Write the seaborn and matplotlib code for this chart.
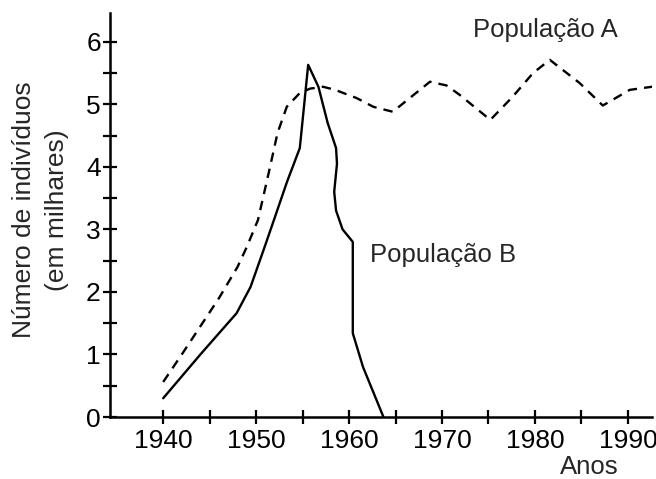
import pandas as pd
import seaborn as sns
import matplotlib.pyplot as plt
from matplotlib.ticker import MultipleLocator, FixedLocator

# Dados
anos_a = [1940, 1942, 1944, 1946, 1948, 1949, 1950.2, 1951.5, 1952.3, 1953.3, 1954.7,
          1955.8, 1957.2, 1958.5, 1960.8, 1962.6, 1964.7, 1966.7, 1968.7, 1970.5,
          1971.9, 1975.2, 1977.6, 1979.8, 1981.6, 1984.8, 1987.3, 1990.2, 1992.6]
pop_a = [0.56, 1.0, 1.45, 1.9, 2.4, 2.72, 3.15, 4.0, 4.54, 4.96, 5.18,
         5.25, 5.28, 5.23, 5.1, 4.96, 4.88, 5.12, 5.36, 5.3,
         5.15, 4.75, 5.12, 5.5, 5.71, 5.34, 4.98, 5.23, 5.28]

anos_b = [1940, 1944, 1947.9, 1949.4, 1950.8, 1951.8, 1953.3, 1954.7, 1955.6,
          1956.7, 1957.7, 1958.6, 1958.7, 1958.4, 1958.6, 1959.3, 1960.4,
          1960.4, 1960.4, 1961.5, 1963.7]
pop_b = [0.30, 1.0, 1.66, 2.08, 2.67, 3.1, 3.75, 4.3, 5.63,
         5.28, 4.7, 4.3, 4.05, 3.6, 3.3, 3.0, 2.8,
         2.2, 1.34, 0.8, 0.0]

df_a = pd.DataFrame({"Ano": anos_a, "Indivíduos": pop_a})
df_b = pd.DataFrame({"Ano": anos_b, "Indivíduos": pop_b})

sns.set_style("ticks")
plt.rcParams['font.family'] = ['Liberation Sans', 'DejaVu Sans']

fig = plt.figure(figsize=(6.56, 4.79), dpi=100)
ax = fig.add_axes([0.168, 0.1294, 0.826, 0.8436])

sns.lineplot(x="Ano", y="Indivíduos", data=df_a, ax=ax, color="black",
             linewidth=1.7, linestyle=(0, (4, 3)), sort=False, estimator=None)
sns.lineplot(x="Ano", y="Indivíduos", data=df_b, ax=ax, color="black",
             linewidth=1.7, sort=False, estimator=None)

ax.set_xlim(1934.3, 1992.6)
ax.set_ylim(0, 6.46)
ax.set_xticks([1940, 1950, 1960, 1970, 1980, 1990])
ax.set_xticklabels(["1940", "1950", "1960", "1970", "1980", "1990"])
ax.xaxis.set_minor_locator(FixedLocator([1945, 1955, 1965, 1975, 1985]))
ax.yaxis.set_major_locator(MultipleLocator(1))
ax.yaxis.set_minor_locator(MultipleLocator(0.5))
ax.tick_params(which="both", direction="inout", length=9.5, width=1.6, color="black",
               labelsize=19, labelcolor="black")
ax.tick_params(axis="x", pad=4)
ax.tick_params(axis="y", pad=2)

sns.despine(ax=ax)
for s in ["left", "bottom"]:
    ax.spines[s].set_linewidth(1.8)
    ax.spines[s].set_color("black")

ax.set_xlabel("")
ax.set_ylabel("")
fig.text(0.036, 0.562, "Número de indivíduos", rotation=90, ha="center", va="center",
         fontsize=19)
fig.text(0.087, 0.562, "(em milhares)", rotation=90, ha="center", va="center",
         fontsize=19)
fig.text(0.898, 0.0, "Anos", ha="center", va="bottom", fontsize=18.5)

ax.text(1973.3, 6.19, "População A", ha="left", va="center", fontsize=18.5)
ax.text(1962.3, 2.59, "População B", ha="left", va="center", fontsize=18.5)

plt.savefig("out.png", dpi=100)
plt.close()
